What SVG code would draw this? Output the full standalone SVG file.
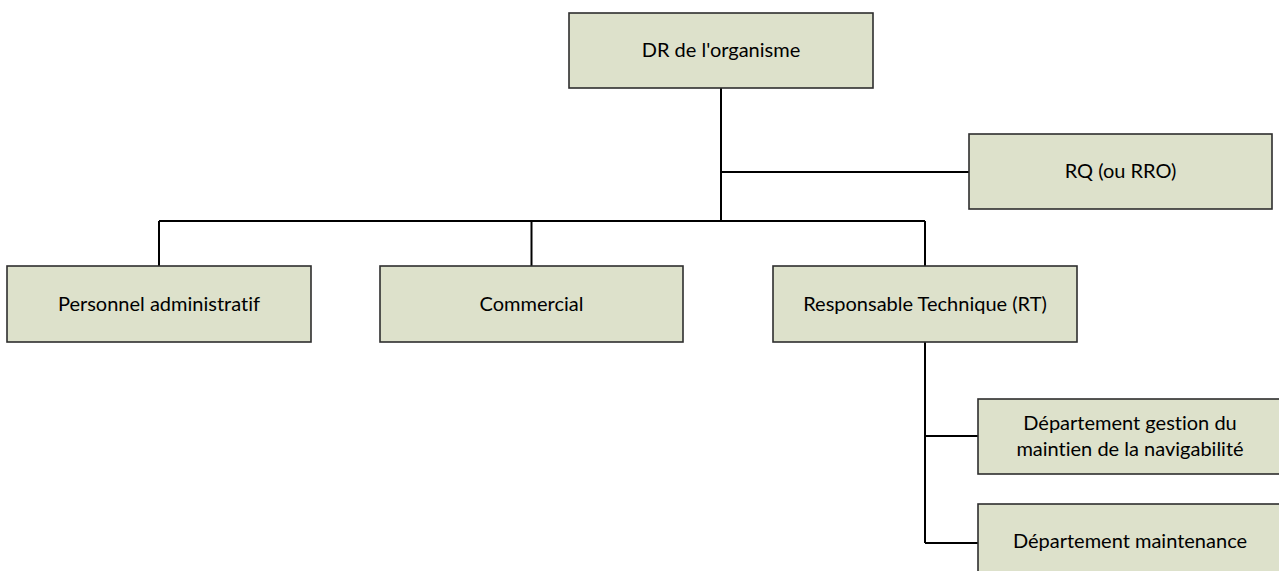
<svg xmlns="http://www.w3.org/2000/svg" width="1279" height="571" viewBox="0 0 1279 571">
<style>
.box{fill:#dde1cb;stroke:#2e2e2e;stroke-width:1.6}
.lbl{font-family:Lato,"Open Sans","Liberation Sans",sans-serif;font-size:20px;fill:#000;text-anchor:middle;font-variant-ligatures:none;font-feature-settings:"liga" 0,"dlig" 0}
.con{stroke:#000;stroke-width:2;fill:none}
</style>
<rect width="1279" height="571" fill="#fff"/>
<g id="connectors">
<path class="con" d="M721,88V221"/>
<path class="con" d="M721,172H969"/>
<path class="con" d="M159,221H925"/>
<path class="con" d="M159,221V266"/>
<path class="con" d="M531.5,221V266"/>
<path class="con" d="M925,221V266"/>
<path class="con" d="M925,342V543"/>
<path class="con" d="M925,436H978"/>
<path class="con" d="M925,543H978"/>
</g>
<g id="node-dr">
<rect class="box" x="569" y="13" width="304" height="75"/>
<text class="lbl" x="721" y="57">DR de l'organisme</text>
</g>
<g id="node-rq">
<rect class="box" x="969" y="134" width="303" height="75"/>
<text class="lbl" x="1120.5" y="178">RQ (ou RRO)</text>
</g>
<g id="node-personnel">
<rect class="box" x="7" y="266" width="304" height="76"/>
<text class="lbl" x="159" y="311">Personnel administratif</text>
</g>
<g id="node-commercial">
<rect class="box" x="380" y="266" width="303" height="76"/>
<text class="lbl" x="531.5" y="311">Commercial</text>
</g>
<g id="node-rt">
<rect class="box" x="773" y="266" width="304" height="76"/>
<text class="lbl" x="925" y="311">Responsable Technique (RT)</text>
</g>
<g id="node-dept-gestion">
<rect class="box" x="978" y="399" width="304" height="75"/>
<text class="lbl" x="1130" y="430">Département gestion du</text>
<text class="lbl" x="1130" y="456">maintien de la navigabilité</text>
</g>
<g id="node-dept-maintenance">
<rect class="box" x="978" y="504" width="304" height="75"/>
<text class="lbl" x="1130" y="548">Département maintenance</text>
</g>
</svg>
